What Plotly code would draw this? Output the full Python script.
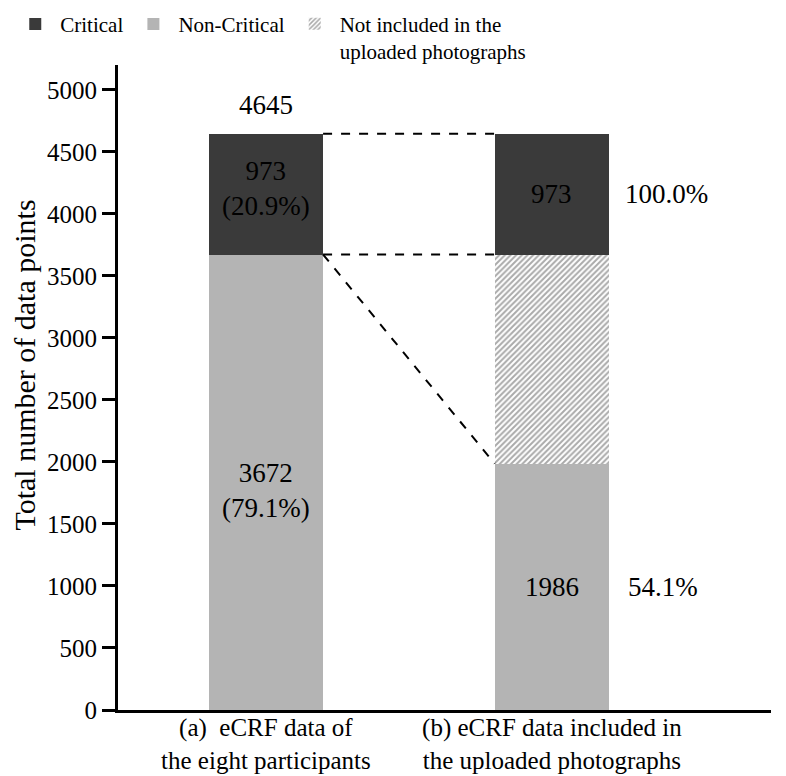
import plotly.graph_objects as go

# ---- data ----
categories = ["(a)  eCRF data of<br>the eight participants",
              "(b) eCRF data included in<br>the uploaded photographs"]
critical = [973, 973]
non_critical = [3672, 1986]
not_included = [0, 1686]
totals = [c + n + x for c, n, x in zip(critical, non_critical, not_included)]
inside_labels_a = ["973<br>(20.9%)", "3672<br>(79.1%)"]
inside_labels_b = ["973", "1986"]
side_labels_b = ["100.0%", "54.1%"]
y_ticks = [0, 500, 1000, 1500, 2000, 2500, 3000, 3500, 4000, 4500, 5000]

FONT = "Liberation Serif"
DARK = "#3a3a3a"
LIGHT = "#b4b4b4"
BAR_W = 0.4

fig = go.Figure()
fig.add_trace(go.Bar(
    x=[0, 1], y=non_critical, name="Non-Critical", width=BAR_W,
    marker=dict(color=LIGHT, line=dict(width=0)), legendrank=2))
fig.add_trace(go.Bar(
    x=[0, 1], y=not_included, name="Not included in the<br>uploaded photographs",
    width=BAR_W,
    marker=dict(color="white", line=dict(width=0),
                pattern=dict(shape="/", fgcolor="#555555", bgcolor="white",
                             size=4, solidity=0.5)),
    legendrank=3))
fig.add_trace(go.Bar(
    x=[0, 1], y=critical, name="Critical", width=BAR_W,
    marker=dict(color=DARK, line=dict(width=0)), legendrank=1))

# dashed connector lines (from right edge of bar a to left edge of bar b)
x0 = 0 + BAR_W / 2
x1 = 1 - BAR_W / 2
dash = dict(color="black", width=2, dash="dash")
fig.add_shape(type="line", x0=x0, x1=x1, y0=totals[0], y1=totals[1], line=dash)
fig.add_shape(type="line", x0=x0, x1=x1, y0=non_critical[0],
              y1=non_critical[1] + not_included[1], line=dash)
fig.add_shape(type="line", x0=x0, x1=x1, y0=non_critical[0],
              y1=non_critical[1], line=dash)

ann_font = dict(family=FONT, size=27, color="black")
anns = []
# total above bar a
anns.append(dict(x=0, y=totals[0], text=str(totals[0]), showarrow=False,
                 yanchor="bottom", yshift=12, font=ann_font))
# bar a inside labels
anns.append(dict(x=0, y=non_critical[0] + critical[0] / 2, text=inside_labels_a[0],
                 showarrow=False, yshift=6, font=ann_font))
anns.append(dict(x=0, y=non_critical[0] / 2, text=inside_labels_a[1],
                 showarrow=False, yshift=-8, font=ann_font))
# bar b inside labels
top_b_base = non_critical[1] + not_included[1]
anns.append(dict(x=1, y=top_b_base + critical[1] / 2, text=inside_labels_b[0],
                 showarrow=False, font=ann_font))
anns.append(dict(x=1, y=non_critical[1] / 2, text=inside_labels_b[1],
                 showarrow=False, font=ann_font))
# side percentages
anns.append(dict(x=1 + BAR_W / 2, y=top_b_base + critical[1] / 2, text=side_labels_b[0],
                 showarrow=False, xanchor="left", xshift=14, font=ann_font))
anns.append(dict(x=1 + BAR_W / 2, y=non_critical[1] / 2, text=side_labels_b[1],
                 showarrow=False, xanchor="left", xshift=17, font=ann_font))
# y-axis title
anns.append(dict(x=-0.143, y=0.535, xref="paper", yref="paper",
                 xanchor="center", yanchor="middle",
                 text="Total number of data points", textangle=-90,
                 showarrow=False, font=dict(family=FONT, size=30, color="black")))

# page has an 8px body margin, so the figure is 8px smaller and margins compensate
fig.update_layout(
    width=778, height=768,
    margin=dict(l=110, r=15, t=57, b=66, autoexpand=False),
    paper_bgcolor="white", plot_bgcolor="white",
    barmode="stack", bargap=0,
    font=dict(family=FONT, color="black"),
    annotations=anns,
    showlegend=True,
    legend=dict(orientation="h", x=-0.165, y=1.095, xanchor="left", yanchor="top",
                font=dict(family=FONT, size=21, color="black"),
                traceorder="normal", valign="top", itemwidth=40,
                bgcolor="rgba(0,0,0,0)"),
    xaxis=dict(range=[-0.517, 1.766], tickmode="array", tickvals=[0, 1],
               ticktext=categories, showgrid=False, zeroline=False,
               showline=True, linecolor="black", linewidth=3, ticks="",
               ticklabelstandoff=-7,
               tickfont=dict(family=FONT, size=25, color="black"),
               automargin=False),
    yaxis=dict(range=[0, 5200], tickvals=y_ticks, showgrid=False, zeroline=False,
               showline=True, linecolor="black", linewidth=3,
               ticks="outside", ticklen=13, tickwidth=3, tickcolor="black",
               tickfont=dict(family=FONT, size=25, color="black"),
               automargin=False),
)

fig.write_html("out.html")
